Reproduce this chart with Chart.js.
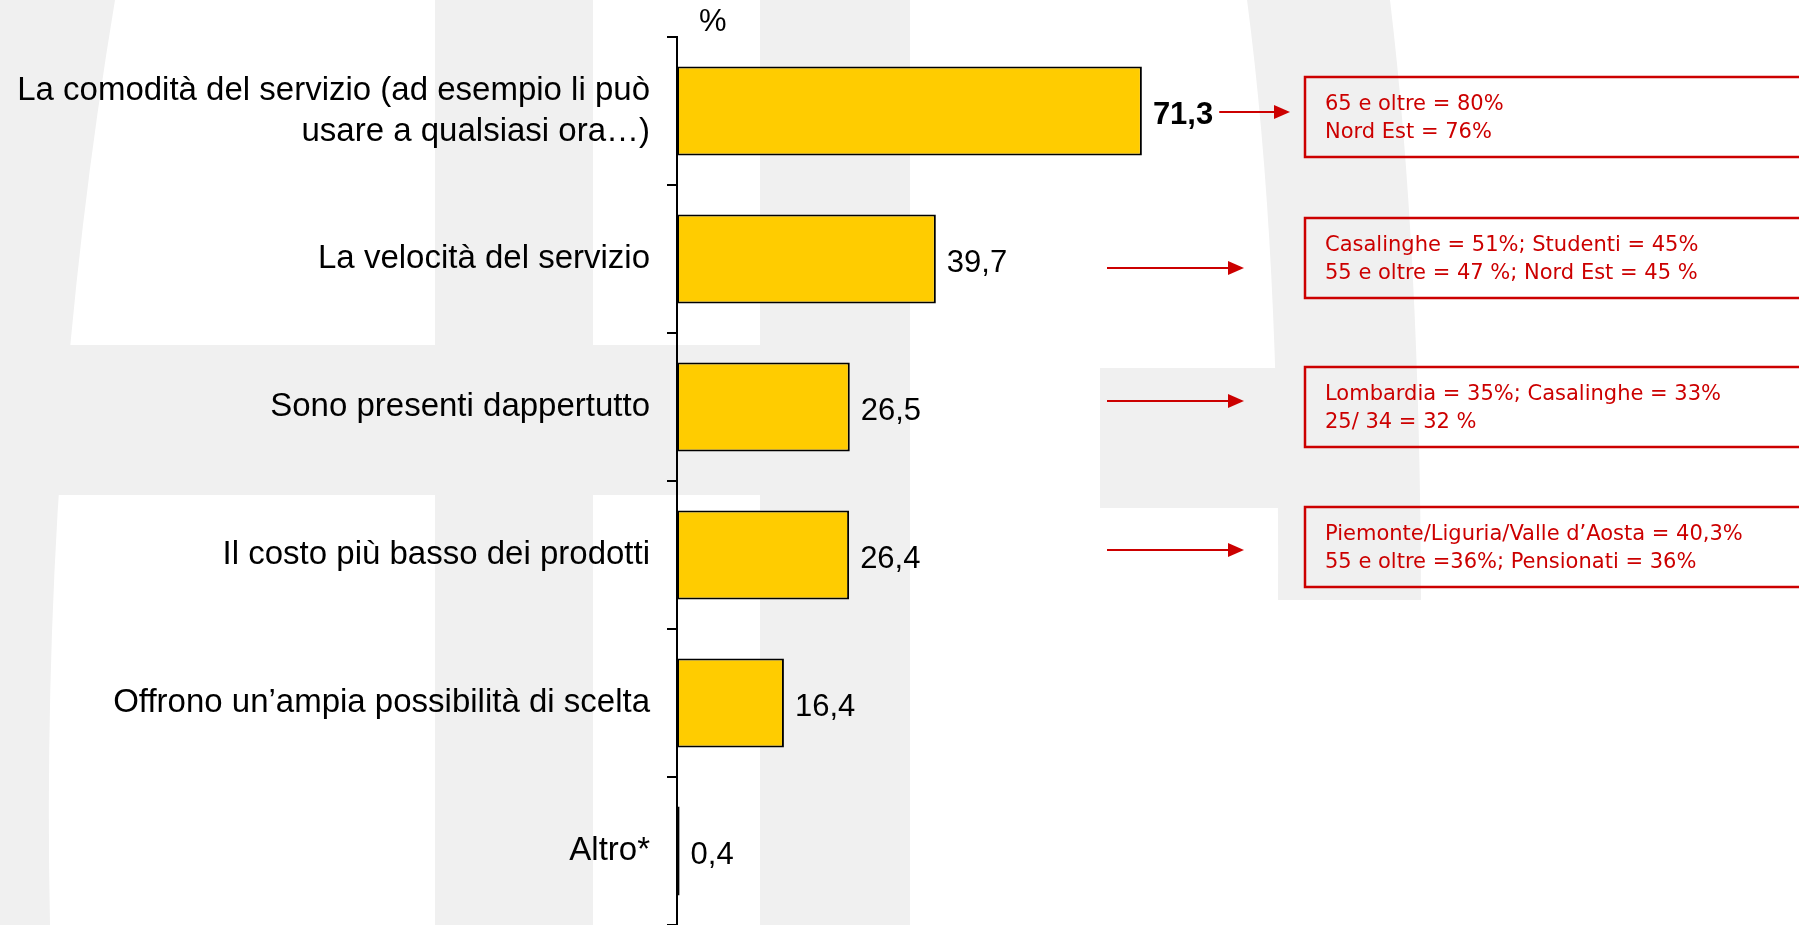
<!DOCTYPE html>
<html>
<head>
<meta charset="utf-8">
<script src="https://cdn.jsdelivr.net/npm/chart.js@4"></script>
<style>
  html, body { margin: 0; padding: 0; background: #fff; }
  canvas { display: block; }
</style>
</head>
<body>
<canvas id="chart" width="1799" height="925"></canvas>
<script>
const categories = [
    ['La comodità del servizio (ad esempio li può', 'usare a qualsiasi ora…)'],
    'La velocità del servizio',
    'Sono presenti dappertutto',
    'Il costo più basso dei prodotti',
    'Offrono un’ampia possibilità di scelta',
    'Altro*'
];
const values = [71.3, 39.7, 26.5, 26.4, 16.4, 0.4];
const notes = [
    ['65 e oltre = 80%', 'Nord Est = 76%'],
    ['Casalinghe = 51%; Studenti = 45%', '55 e oltre = 47 %; Nord Est = 45 %'],
    ['Lombardia = 35%; Casalinghe = 33%', '25/ 34 = 32 %'],
    ['Piemonte/Liguria/Valle d’Aosta = 40,3%', '55 e oltre =36%; Pensionati = 36%']
];

const RED = '#cc0000';

// faint grey watermark behind the chart
const watermark = {
    id: 'watermark',
    beforeDraw(chart) {
        const ctx = chart.ctx;
        ctx.save();
        ctx.fillStyle = '#f0f0f0';
        ctx.beginPath();
        ctx.moveTo(0, 0);
        ctx.lineTo(115, 0);
        ctx.quadraticCurveTo(40, 450, 50, 925);
        ctx.lineTo(0, 925);
        ctx.closePath();
        ctx.fill();
        ctx.fillRect(435, 0, 158, 925);
        ctx.fillRect(760, 0, 150, 925);
        ctx.fillRect(0, 345, 760, 150);
        ctx.beginPath();
        ctx.moveTo(1247, 0);
        ctx.lineTo(1390, 0);
        ctx.quadraticCurveTo(1420, 250, 1421, 600);
        ctx.lineTo(1278, 600);
        ctx.quadraticCurveTo(1280, 250, 1247, 0);
        ctx.closePath();
        ctx.fill();
        ctx.fillRect(1100, 368, 180, 140);
        ctx.restore();
    }
};

// value labels, % sign, arrows and red boxes
const extras = {
    id: 'extras',
    afterDatasetsDraw(chart) {
        const ctx = chart.ctx;
        const bars = chart.getDatasetMeta(0).data;
        ctx.save();
        ctx.fillStyle = '#000';
        ctx.textBaseline = 'middle';
        ctx.textAlign = 'left';
        let firstEnd = 0;
        bars.forEach((bar, i) => {
            ctx.font = (i === 0 ? 'bold ' : '') + '31px "Liberation Sans"';
            const txt = values[i].toFixed(1).replace('.', ',');
            ctx.fillText(txt, bar.x + 11, bar.y + 4);
            if (i === 0) firstEnd = bar.x + 11 + ctx.measureText(txt).width;
        });

        ctx.font = '31px "Liberation Sans"';
        ctx.fillText('%', chart.chartArea.left + 22, 22);

        const boxShift = [6, -1, 0, -8];
        const arrowShift = [1, 9, -6, -5];
        notes.forEach((lines, i) => {
            const cy = bars[i].y;
            const ay = cy + arrowShift[i];
            const x0 = i === 0 ? firstEnd + 6 : 1107;
            const tip = i === 0 ? 1290 : 1244;
            ctx.strokeStyle = RED;
            ctx.fillStyle = RED;
            ctx.lineWidth = 2;
            ctx.beginPath();
            ctx.moveTo(x0, ay);
            ctx.lineTo(tip - 14, ay);
            ctx.stroke();
            ctx.beginPath();
            ctx.moveTo(tip, ay);
            ctx.lineTo(tip - 16, ay - 7);
            ctx.lineTo(tip - 16, ay + 7);
            ctx.closePath();
            ctx.fill();

            const top = cy + boxShift[i] - 40;
            ctx.lineWidth = 2.5;
            ctx.strokeRect(1305, top, 520, 80);
            ctx.font = '21px "DejaVu Sans"';
            ctx.fillText(lines[0], 1325, top + 28);
            ctx.fillText(lines[1], 1325, top + 56);
        });
        ctx.restore();
    }
};

new Chart(document.getElementById('chart'), {
    type: 'bar',
    data: {
        labels: categories,
        datasets: [{
            data: values,
            backgroundColor: '#ffcc00',
            borderColor: '#000',
            borderWidth: 2,
            borderSkipped: false,
            categoryPercentage: 1,
            barPercentage: 0.6
        }]
    },
    options: {
        indexAxis: 'y',
        responsive: false,
        animation: false,
        layout: { padding: { top: 37, right: 470, bottom: 0, left: 0 } },
        plugins: {
            legend: { display: false },
            tooltip: { enabled: false }
        },
        scales: {
            x: { display: false, min: 0, max: 100 },
            y: {
                afterFit(scale) {
                    scale.width = 677;
                    scale.paddingTop = 0;
                    scale.paddingBottom = 0;
                },
                grid: {
                    offset: true,
                    drawOnChartArea: false,
                    drawTicks: true,
                    tickLength: 10,
                    color: '#000',
                    lineWidth: 2
                },
                border: { color: '#000', width: 2 },
                ticks: {
                    autoSkip: false,
                    color: '#000',
                    padding: 17,
                    font: { family: 'Liberation Sans', size: 33, lineHeight: 1.24 }
                }
            }
        }
    },
    plugins: [watermark, extras]
});
</script>
</body>
</html>
